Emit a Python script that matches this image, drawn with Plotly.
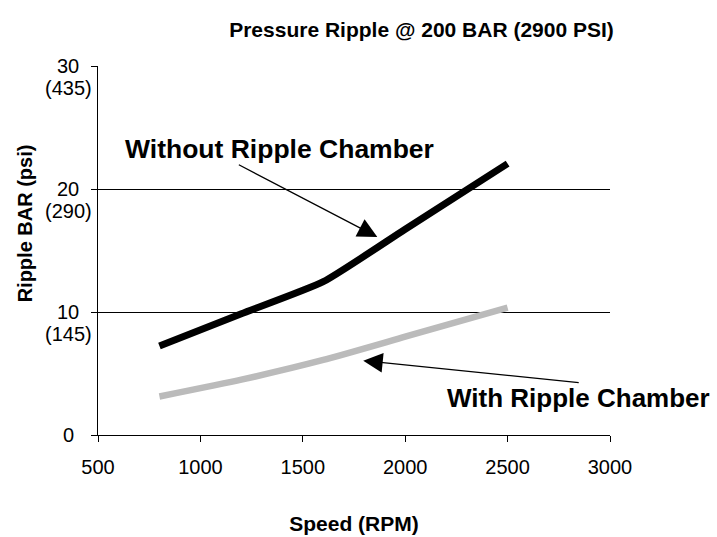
import plotly.graph_objects as go

# ---- data ----
speed_rpm = [800, 1200, 1600, 2000, 2500]
without_chamber = [7.24, 9.85, 12.46, 16.73, 22.06]
with_chamber = [3.13, 4.5, 6.1, 7.99, 10.35]

x_ticks = [500, 1000, 1500, 2000, 2500, 3000]
y_ticks = [0, 10, 20, 30]
y_tick_bar = ["0", "10", "20", "30"]
y_tick_psi = ["", "(145)", "(290)", "(435)"]

title_text = "Pressure Ripple @ 200 BAR (2900 PSI)"
x_title = "Speed (RPM)"
y_title = "Ripple BAR (psi)"
label_without = "Without Ripple Chamber"
label_with = "With Ripple Chamber"

FONT = "Liberation Sans, Arial, Helvetica, sans-serif"

fig = go.Figure()
fig.add_trace(go.Scatter(
    x=speed_rpm, y=without_chamber, mode="lines",
    line=dict(color="black", width=7, shape="spline", smoothing=0.5),
    showlegend=False, hoverinfo="skip"))
fig.add_trace(go.Scatter(
    x=speed_rpm, y=with_chamber, mode="lines",
    line=dict(color="rgb(187,187,187)", width=6.5, shape="spline", smoothing=0.5),
    showlegend=False, hoverinfo="skip"))

annotations = []
# y tick labels (two lines: BAR value and psi value)
for v, b, p in zip(y_ticks, y_tick_bar, y_tick_psi):
    annotations.append(dict(x=-0.058, xref="paper", y=v, yref="y", text=b,
                            showarrow=False, xanchor="center", yanchor="middle",
                            font=dict(family=FONT, size=20, color="black")))
    if p:
        annotations.append(dict(x=-0.058, xref="paper", y=v, yref="y", text=p,
                                showarrow=False, xanchor="center", yanchor="middle",
                                yshift=-22,
                                font=dict(family=FONT, size=20, color="black")))

# y axis title
annotations.append(dict(x=-0.143, xref="paper", y=0.573, yref="paper", text="<b>" + y_title + "</b>",
                        showarrow=False, textangle=-90, xanchor="center", yanchor="middle",
                        font=dict(family=FONT, size=20, color="black")))

# labels and arrows
annotations.append(dict(x=1385, y=23.25, xref="x", yref="y", text="<b>" + label_without + "</b>",
                        showarrow=False, xanchor="center", yanchor="middle",
                        font=dict(family=FONT, size=26.5, color="black")))
annotations.append(dict(x=1864, y=16.1, xref="x", yref="y", text="",
                        showarrow=True, arrowhead=2, arrowsize=3, arrowwidth=1.3,
                        arrowcolor="black", ax=-140, ay=-73, standoff=0))
annotations.append(dict(x=(712 - 98) / 512, y=3.0, xref="paper", yref="y", text="<b>" + label_with + "</b>",
                        showarrow=False, xanchor="right", yanchor="middle",
                        font=dict(family=FONT, size=26, color="black")))
annotations.append(dict(x=1795, y=6.04, xref="x", yref="y", text="",
                        showarrow=True, arrowhead=2, arrowsize=3, arrowwidth=1.3,
                        arrowcolor="black", ax=217, ay=22, standoff=0))

fig.update_layout(
    width=717, height=537,
    margin=dict(l=98, r=107, t=66, b=102, autoexpand=False),
    paper_bgcolor="white", plot_bgcolor="white",
    font=dict(family=FONT, color="black"),
    title=dict(text="<b>" + title_text + "</b>", x=421.5 / 717, xanchor="center",
               xref="container", y=1 - 30 / 537, yref="container", yanchor="middle",
               font=dict(family=FONT, size=21, color="black")),
    xaxis=dict(range=[500, 3000], tickvals=x_ticks, ticks="outside", ticklen=6,
               tickcolor="black", showline=True, linecolor="black", linewidth=1,
               showgrid=False, zeroline=False, ticklabelstandoff=8, automargin=False,
               tickfont=dict(family=FONT, size=20, color="black"),
               title=dict(text="<b>" + x_title + "</b>", standoff=39,
                          font=dict(family=FONT, size=21, color="black"))),
    yaxis=dict(range=[0, 30], tickvals=y_ticks, ticks="outside", ticklen=6,
               tickcolor="black", showline=True, linecolor="black", linewidth=1,
               showgrid=True, gridcolor="black", gridwidth=1, zeroline=False,
               showticklabels=False, automargin=False),
    annotations=annotations,
)

fig.write_html("out.html", config={"displayModeBar": False},
               post_script="document.body.style.margin='0';document.body.style.overflow='hidden';")
